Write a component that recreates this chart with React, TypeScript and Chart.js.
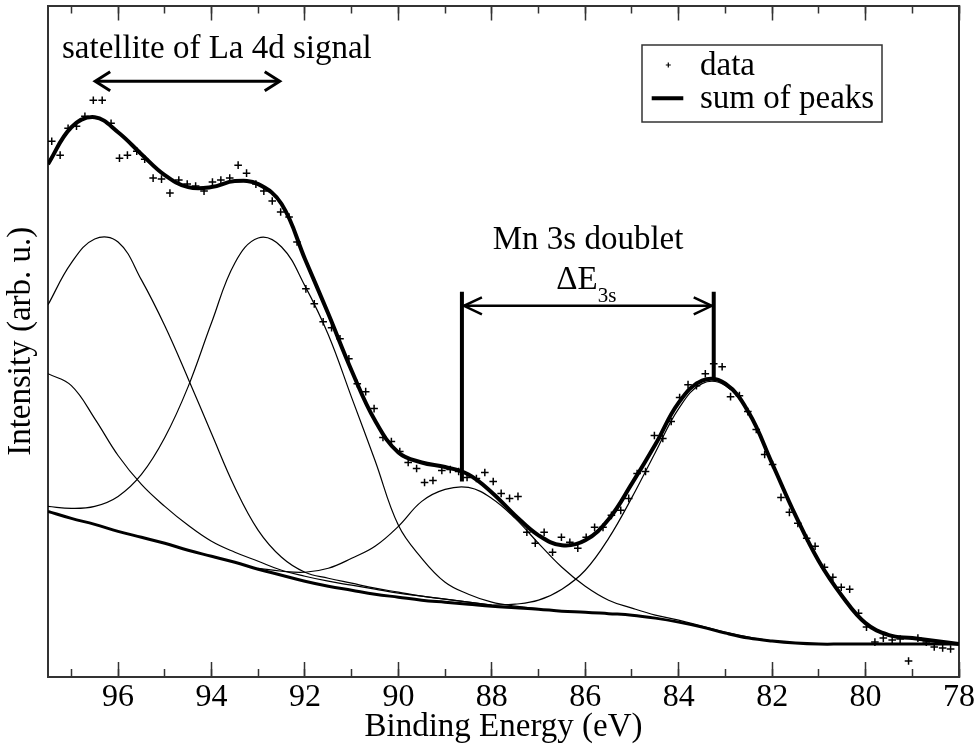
import React, { useEffect, useRef } from 'react';
import { Chart, registerables } from 'chart.js';

Chart.register(...registerables);

const FONT = "'Liberation Serif', 'Times New Roman', Times, serif";
const TEXT_SIZE = 33;

// Binding energy grid (eV) for the fitted curves
const curveEnergy = [97.5, 97, 96.5, 96, 95.5, 95, 94.5, 94, 93.5, 93, 92.5, 92, 91.5, 91, 90.5, 90, 89.5, 89, 88.5, 88, 87.5, 87, 86.5, 86, 85.5, 85, 84.5, 84, 83.5, 83, 82.5, 82, 81.5, 81, 80.5, 80, 79.5, 79, 78.5, 78];

const sumOfPeaks = [514, 551, 561, 546, 524, 503, 491, 491, 497, 494, 474, 419, 364, 307, 257, 225, 215, 210.5, 203, 185, 162, 142, 132, 137, 158, 194, 233, 275, 297, 294, 265, 214, 162, 116, 81, 54, 42, 39, 36, 33];

const background = [166, 159, 153, 146, 140, 134, 127, 121, 115, 108, 102, 96, 91, 87, 83, 80, 77, 75, 73, 71, 69.5, 68, 66, 65, 63.5, 62, 59, 55, 50, 44, 39, 36, 34, 33, 33, 33, 33, 33, 33, 33];

const N = null;
// satellite component (~96.3 eV)
const peakA = [373, 415, 439, 436, 398, 352, 299, 244, 190, 147, 120, 105, 99, 94, 89, 85, 81, 78, 75, 72, N, N, N, N, N, N, N, N, N, N, N, N, N, N, N, N, N, N, N, N];
// satellite component (~92.8 eV)
const peakB = [171, 169, 171, 181, 203, 240, 291, 355, 415, 440, 431, 392, 343, 280, 217, 152, 119, 95, 83, 75, 71, 68.5, N, N, N, N, N, N, N, N, N, N, N, N, N, N, N, N, N, N];
// satellite component (> 97.5 eV)
const peakC = [304, 292, 259, 222, 193, 171, 152, 136, 125, 116, 107, 101, 96, 92, 88, 84, 81, 78, 75, 72, N, N, N, N, N, N, N, N, N, N, N, N, N, N, N, N, N, N, N, N];
// Mn 3s high-BE component (~88.6 eV)
const peakD = [N, N, N, N, N, N, N, N, N, 109, 106, 105, 109, 119, 131, 151, 176, 188, 190, 179, 159, 134, 110, 91, 77, 69, 62, 57, 51, 45, 40, 36, N, N, N, N, N, N, N, N];
// Mn 3s low-BE component (~83.2 eV)
const peakE = [N, N, N, N, N, N, N, N, N, N, N, N, N, N, N, N, N, N, N, 72, 73, 77, 88, 107, 139, 180, 225, 269, 294, 292, 264, 213, 161, 115, 80, 54, 42, 39, 36, 33];

// measured spectrum
const dataEnergy = [97.42, 97.24, 97.07, 96.89, 96.71, 96.53, 96.34, 96.15, 95.97, 95.80, 95.60, 95.43, 95.25, 95.07, 94.89, 94.70, 94.52, 94.34, 94.16, 93.98, 93.80, 93.61, 93.43, 93.25, 93.05, 92.88, 92.70, 92.52, 92.34, 92.17, 91.98, 91.80, 91.61, 91.43, 91.25, 91.06, 90.88, 90.70, 90.52, 90.33, 90.15, 89.97, 89.79, 89.61, 89.44, 89.26, 89.07, 88.89, 88.71, 88.53, 88.33, 88.15, 87.97, 87.80, 87.62, 87.44, 87.25, 87.07, 86.88, 86.70, 86.51, 86.33, 86.16, 85.98, 85.80, 85.62, 85.44, 85.24, 85.07, 84.89, 84.71, 84.52, 84.34, 84.16, 83.98, 83.80, 83.62, 83.43, 83.25, 83.07, 82.89, 82.70, 82.52, 82.34, 82.16, 81.99, 81.81, 81.63, 81.45, 81.26, 81.08, 80.88, 80.70, 80.52, 80.34, 80.15, 79.98, 79.80, 79.62, 79.43, 79.26, 79.08, 78.88, 78.70, 78.53, 78.35, 78.18];
const dataIntensity = [537, 523, 550, 552, 562, 578, 578, 555, 520, 523, 527, 519, 500, 499, 485, 498, 494, 492, 487, 496, 498, 500, 513, 505, 494, 487, 477, 466, 461, 436, 389, 374, 356, 350, 339, 319, 294, 286, 269, 240, 236, 226, 215, 209, 195, 197, 207, 208, 206, 200, 199, 205, 196, 184, 179, 181, 145, 134, 145, 125, 140, 135, 129, 140, 150, 150, 162, 167, 179, 204, 206, 242, 239, 256, 280, 293, 292, 304, 314, 311, 281, 282, 266, 248, 223, 213, 180, 165, 154, 139, 131, 110, 100, 90, 88, 64, 50, 35, 39, 37, 38, 16, 39, 35, 30, 29, 28];

// annotations (data coordinates)
const satelliteLabel = 'satellite of La 4d signal';
const satelliteSpan = [96.49, 92.54];
const satelliteLevel = 597;
const satelliteTextAt = [97.2, 620];
const doubletLabel = 'Mn 3s doublet';
const doubletTextAt = [87.98, 429];
const doubletPeaks = [88.64, 83.25];
const doubletTops = [196, 300];
const doubletBarTop = 386;
const doubletArrowLevel = 372;
const deltaTextAt = [86.62, 389];

const legendLabels = ['data', 'sum of peaks'];

const toXY = (xs: number[], ys: (number | null)[]) =>
  xs.map((x, i) => ({ x, y: ys[i] })).filter((p) => p.y !== null) as { x: number; y: number }[];

const annotationPlugin = {
  id: 'xpsAnnotations',
  afterDatasetsDraw(chart: any) {
    const { ctx, scales } = chart;
    const X = (v: number) => scales.x.getPixelForValue(v);
    const Y = (v: number) => scales.y.getPixelForValue(v);
    ctx.save();
    ctx.strokeStyle = '#000';
    ctx.fillStyle = '#000';
    ctx.lineCap = 'butt';
    ctx.lineJoin = 'miter';

    const head = (tx: number, ty: number, dir: number, len: number, half: number, lw: number) => {
      ctx.beginPath();
      ctx.lineWidth = lw;
      ctx.moveTo(tx - dir * len, ty - half);
      ctx.lineTo(tx, ty);
      ctx.lineTo(tx - dir * len, ty + half);
      ctx.stroke();
    };

    // satellite double arrow
    const sy = Y(satelliteLevel);
    const sx1 = X(satelliteSpan[0]);
    const sx2 = X(satelliteSpan[1]);
    ctx.beginPath();
    ctx.lineWidth = 3;
    ctx.moveTo(sx1 + 1, sy);
    ctx.lineTo(sx2 - 1, sy);
    ctx.stroke();
    head(sx1, sy, -1, 15, 9.5, 3);
    head(sx2, sy, 1, 15, 9.5, 3);

    ctx.font = `${TEXT_SIZE}px ${FONT}`;
    ctx.textAlign = 'left';
    ctx.textBaseline = 'alphabetic';
    ctx.fillText(satelliteLabel, X(satelliteTextAt[0]), Y(satelliteTextAt[1]));
    ctx.fillText(doubletLabel, X(doubletTextAt[0]), Y(doubletTextAt[1]));

    // doublet bars
    const dx1 = X(doubletPeaks[0]);
    const dx2 = X(doubletPeaks[1]);
    const top = Y(doubletBarTop);
    ctx.beginPath();
    ctx.lineWidth = 4;
    ctx.moveTo(dx1, top);
    ctx.lineTo(dx1, Y(doubletTops[0]));
    ctx.moveTo(dx2, top);
    ctx.lineTo(dx2, Y(doubletTops[1]));
    ctx.stroke();

    const ay = Y(doubletArrowLevel);
    ctx.beginPath();
    ctx.lineWidth = 2.5;
    ctx.moveTo(dx1 + 2, ay);
    ctx.lineTo(dx2 - 2, ay);
    ctx.stroke();
    head(dx1 + 2, ay, -1, 18, 8.5, 2.5);
    head(dx2 - 2, ay, 1, 18, 8.5, 2.5);

    // Delta E_3s
    const tx = X(deltaTextAt[0]);
    const ty = Y(deltaTextAt[1]);
    ctx.font = `${TEXT_SIZE}px ${FONT}`;
    ctx.fillText('\u0394E', tx, ty);
    const w = ctx.measureText('\u0394E').width;
    ctx.font = `21px ${FONT}`;
    ctx.fillText('3s', tx + w, ty + 13.5);
    ctx.restore();
  },
};

const legendPlugin = {
  id: 'boxLegend',
  afterDraw(chart: any) {
    const { ctx, chartArea } = chart;
    const left = chartArea.right - 317;
    const top = chartArea.top + 39.5;
    ctx.save();
    ctx.fillStyle = '#fff';
    ctx.fillRect(left, top, 240, 77);
    ctx.lineWidth = 1.5;
    ctx.strokeStyle = '#333';
    ctx.strokeRect(left, top, 240, 77);

    // cross marker
    const cx = chartArea.right - 290.7;
    const cy = chartArea.top + 59.5;
    ctx.strokeStyle = '#000';
    ctx.lineWidth = 1.2;
    ctx.beginPath();
    ctx.moveTo(cx - 2.5, cy);
    ctx.lineTo(cx + 2.5, cy);
    ctx.moveTo(cx, cy - 2.5);
    ctx.lineTo(cx, cy + 2.5);
    ctx.stroke();

    // thick line
    ctx.lineWidth = 4;
    ctx.beginPath();
    ctx.moveTo(chartArea.right - 307.3, chartArea.top + 92.7);
    ctx.lineTo(chartArea.right - 275.7, chartArea.top + 92.7);
    ctx.stroke();

    ctx.fillStyle = '#000';
    ctx.font = `${TEXT_SIZE}px ${FONT}`;
    ctx.textAlign = 'left';
    ctx.textBaseline = 'alphabetic';
    ctx.fillText(legendLabels[0], chartArea.right - 259, chartArea.top + 69);
    ctx.fillText(legendLabels[1], chartArea.right - 259, chartArea.top + 102);
    ctx.restore();
  },
};

const noPad = (s: any) => {
  s.paddingLeft = 0;
  s.paddingRight = 0;
  s.paddingTop = 0;
  s.paddingBottom = 0;
};

export default function App() {
  const canvasRef = useRef<HTMLCanvasElement | null>(null);

  useEffect(() => {
    document.body.style.margin = '0';
    const canvas = canvasRef.current;
    if (!canvas) return;

    const thin = (vals: (number | null)[], label: string) => ({
      label,
      data: toXY(curveEnergy, vals),
      borderColor: '#000',
      borderWidth: 1.2,
      pointRadius: 0,
      tension: 0.4,
      fill: false,
      xAxisID: 'x',
      yAxisID: 'y',
    });

    const axisCommon = {
      type: 'linear' as const,
      axis: 'x' as const,
      reverse: true,
      min: 78,
      max: 97.5,
    };

    const chart = new Chart(canvas, {
      type: 'line',
      data: {
        datasets: [
          thin(peakA, 'peak 1'),
          thin(peakB, 'peak 2'),
          thin(peakC, 'peak 3'),
          thin(peakD, 'peak 4'),
          thin(peakE, 'peak 5'),
          {
            label: 'background',
            data: toXY(curveEnergy, background),
            borderColor: '#000',
            borderWidth: 3,
            pointRadius: 0,
            tension: 0.4,
            fill: false,
            xAxisID: 'x',
            yAxisID: 'y',
          },
          {
            label: legendLabels[1],
            data: toXY(curveEnergy, sumOfPeaks),
            borderColor: '#000',
            borderWidth: 4,
            pointRadius: 0,
            tension: 0.4,
            fill: false,
            xAxisID: 'x',
            yAxisID: 'y',
          },
          {
            label: legendLabels[0],
            data: toXY(dataEnergy, dataIntensity),
            showLine: false,
            pointStyle: 'cross',
            pointRadius: 3.8,
            pointBorderWidth: 1.5,
            pointBorderColor: '#000',
            borderColor: '#000',
            backgroundColor: '#000',
            xAxisID: 'x',
            yAxisID: 'y',
          },
        ],
      },
      options: {
        responsive: false,
        animation: false,
        events: [],
        layout: { padding: { top: 4, right: 18, left: 0, bottom: 0 } },
        plugins: { legend: { display: false }, tooltip: { enabled: false } },
        scales: {
          x: {
            ...axisCommon,
            position: 'bottom',
            weight: 1,
            afterFit: (s: any) => {
              s.height = 74;
              noPad(s);
            },
            ticks: {
              stepSize: 2,
              includeBounds: false,
              autoSkip: false,
              maxRotation: 0,
              minRotation: 0,
              padding: 16,
              color: '#000',
              font: { family: FONT, size: 32 },
            },
            grid: { drawOnChartArea: false, drawTicks: true, tickLength: -15, tickWidth: 1.5, tickColor: '#333' },
            border: { display: true, color: '#333', width: 2 },
            title: {
              display: true,
              text: 'Binding Energy (eV)',
              color: '#000',
              font: { family: FONT, size: TEXT_SIZE },
              padding: { top: 0, bottom: 4 },
            },
          },
          xMinor: {
            ...axisCommon,
            position: 'bottom',
            weight: 0,
            afterFit: (s: any) => {
              s.height = 0;
              noPad(s);
            },
            ticks: { stepSize: 1, includeBounds: false, autoSkip: false, display: false },
            grid: { drawOnChartArea: false, drawTicks: true, tickLength: -8, tickWidth: 1.5, tickColor: '#333' },
            border: { display: false },
          },
          xTop: {
            ...axisCommon,
            position: 'top',
            weight: 1,
            afterFit: (s: any) => {
              s.height = 0;
              noPad(s);
            },
            ticks: { stepSize: 2, includeBounds: false, autoSkip: false, display: false },
            grid: { drawOnChartArea: false, drawTicks: true, tickLength: -15, tickWidth: 1.5, tickColor: '#333' },
            border: { display: true, color: '#333', width: 2 },
          },
          xTopMinor: {
            ...axisCommon,
            position: 'top',
            weight: 0,
            afterFit: (s: any) => {
              s.height = 0;
              noPad(s);
            },
            ticks: { stepSize: 1, includeBounds: false, autoSkip: false, display: false },
            grid: { drawOnChartArea: false, drawTicks: true, tickLength: -8, tickWidth: 1.5, tickColor: '#333' },
            border: { display: false },
          },
          y: {
            type: 'linear',
            position: 'left',
            min: 0,
            max: 673,
            afterFit: (s: any) => {
              s.width = 48;
              noPad(s);
            },
            ticks: { display: false },
            grid: { drawOnChartArea: false, drawTicks: false },
            border: { display: true, color: '#333', width: 2 },
            title: {
              display: true,
              text: 'Intensity (arb. u.)',
              color: '#000',
              font: { family: FONT, size: TEXT_SIZE },
              padding: { top: 2, bottom: 0 },
            },
          },
          yRight: {
            type: 'linear',
            axis: 'y',
            position: 'right',
            min: 0,
            max: 673,
            afterFit: (s: any) => {
              s.width = 0;
              noPad(s);
            },
            ticks: { display: false },
            grid: { drawOnChartArea: false, drawTicks: false },
            border: { display: true, color: '#333', width: 2 },
          },
        },
      } as any,
      plugins: [annotationPlugin, legendPlugin],
    });

    return () => {
      chart.destroy();
    };
  }, []);

  return (
    <div style={{ width: 977, height: 751 }}>
      <canvas ref={canvasRef} width={977} height={751} style={{ display: 'block' }} />
    </div>
  );
}
